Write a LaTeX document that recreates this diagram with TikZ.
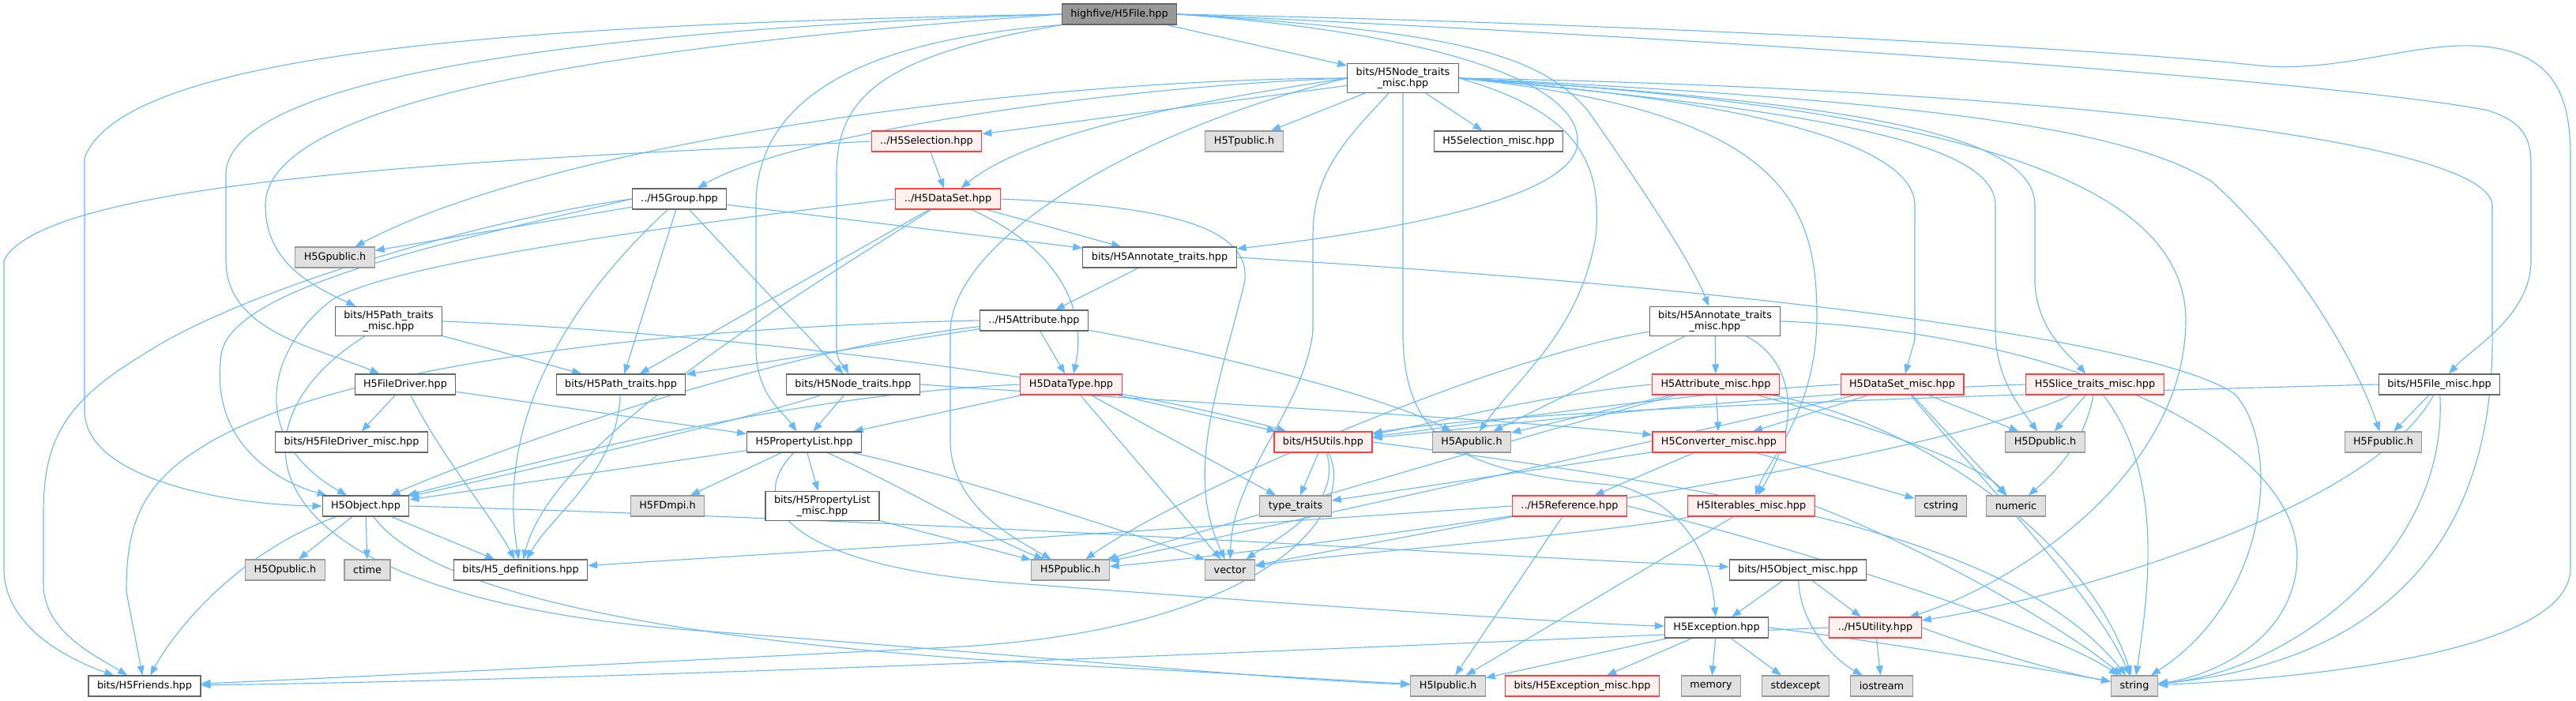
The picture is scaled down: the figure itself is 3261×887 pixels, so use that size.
\documentclass[tikz,border=0pt]{standalone}
\usepackage{fontspec}
\newfontfamily\nodefont{DejaVu Sans}
\usetikzlibrary{arrows.meta,backgrounds}

\definecolor{edgeblue}{HTML}{63B8FF}
\definecolor{redline}{HTML}{FF4040}
\definecolor{redfill}{HTML}{FFF0F0}
\definecolor{extfill}{HTML}{E0E0E0}
\definecolor{extline}{HTML}{999999}
\definecolor{rootfill}{HTML}{999999}
\definecolor{boxline}{HTML}{666666}

\begin{document}
\begin{tikzpicture}[
  x=1pt, y=-1pt,
  base/.style={rectangle, draw, line width=1.1pt, align=center,
               font=\nodefont\fontsize{12.8}{14.5}\selectfont,
               inner xsep=11pt, inner ysep=5pt, minimum height=26pt},
  filebox/.style={base, draw=boxline, fill=white},
  redbox/.style={base, draw=redline, fill=redfill},
  extbox/.style={base, draw=extline, fill=extfill},
  rootbox/.style={base, draw=boxline, fill=rootfill},
  dep/.style={draw=edgeblue, line width=1.1pt, -{Triangle[length=12pt,width=9pt]}}
]
  \useasboundingbox (0,0) rectangle (3261,887);

  % Wurzel
  \node[rootbox] (file) at (1417,18) {highfive/H5File.hpp};
  \node[filebox] (ntm) at (1776,99) {bits/H5Node\_traits\\\_misc.hpp};

  % Ebene 3-6
  \node[redbox] (sel) at (1173,179) {../H5Selection.hpp};
  \node[extbox] (tpub) at (1575,179) {H5Tpublic.h};
  \node[filebox] (selm) at (1897,179) {H5Selection\_misc.hpp};
  \node[filebox] (grp) at (860,252) {../H5Group.hpp};
  \node[redbox] (ds) at (1200,252) {../H5DataSet.hpp};
  \node[extbox] (gpub) at (424,326) {H5Gpublic.h};
  \node[filebox] (annot) at (1468,326) {bits/H5Annotate\_traits.hpp};
  \node[filebox] (attr) at (1309,406) {../H5Attribute.hpp};
  \node[filebox] (ptm) at (492,407) {bits/H5Path\_traits\\\_misc.hpp};
  \node[filebox] (annotm) at (2171,407) {bits/H5Annotate\_traits\\\_misc.hpp};

  % Ebene 7
  \node[filebox] (fd) at (513,487) {H5FileDriver.hpp};
  \node[filebox] (pt) at (786,487) {bits/H5Path\_traits.hpp};
  \node[filebox] (nt) at (1080,487) {bits/H5Node\_traits.hpp};
  \node[redbox] (dt) at (1356,487) {H5DataType.hpp};
  \node[redbox] (am) at (2172,487) {H5Attribute\_misc.hpp};
  \node[redbox] (dsm) at (2408,487) {H5DataSet\_misc.hpp};
  \node[redbox] (slm) at (2652,487) {H5Slice\_traits\_misc.hpp};
  \node[filebox] (fm) at (3088,487) {bits/H5File\_misc.hpp};

  % Ebene 8
  \node[filebox] (fdm) at (445,560) {bits/H5FileDriver\_misc.hpp};
  \node[filebox] (pl) at (1018,560) {H5PropertyList.hpp};
  \node[redbox] (utils) at (1675,560) {bits/H5Utils.hpp};
  \node[extbox] (apub) at (1863,560) {H5Apublic.h};
  \node[redbox] (conv) at (2176,560) {H5Converter\_misc.hpp};
  \node[extbox] (dpub) at (2589,560) {H5Dpublic.h};
  \node[extbox] (fpub) at (3017,560) {H5Fpublic.h};

  % Ebene 9
  \node[filebox] (obj) at (463,641) {H5Object.hpp};
  \node[extbox] (fdmpi) at (845,641) {H5FDmpi.h};
  \node[filebox] (plm) at (1041,641) {bits/H5PropertyList\\\_misc.hpp};
  \node[extbox] (tt) at (1640,641) {type\_traits};
  \node[redbox] (ref) at (1987,641) {../H5Reference.hpp};
  \node[redbox] (iter) at (2217,641) {H5Iterables\_misc.hpp};
  \node[extbox] (cstr) at (2457,641) {cstring};
  \node[extbox] (num) at (2552,641) {numeric};

  % Ebene 10-11
  \node[extbox] (opub) at (361,722) {H5Opublic.h};
  \node[extbox] (ctime) at (465,722) {ctime};
  \node[filebox] (defs) at (659,722) {bits/H5\_definitions.hpp};
  \node[extbox] (ppub) at (1355,722) {H5Ppublic.h};
  \node[extbox] (vec) at (1557,722) {vector};
  \node[filebox] (om) at (2276,722) {bits/H5Object\_misc.hpp};
  \node[filebox] (exc) at (2173,795) {H5Exception.hpp};
  \node[redbox] (util) at (2374,795) {../H5Utility.hpp};

  % unterste Ebene
  \node[filebox] (friends) at (183,869) {bits/H5Friends.hpp};
  \node[extbox] (ipub) at (1833,869) {H5Ipublic.h};
  \node[redbox] (excm) at (2003,869) {bits/H5Exception\_misc.hpp};
  \node[extbox] (mem) at (2166,869) {memory};
  \node[extbox] (stdex) at (2273,869) {stdexcept};
  \node[extbox] (iost) at (2382,869) {iostream};
  \node[extbox] (str) at (2702,869) {string};

  \begin{scope}[on background layer]
  % H5File.hpp
  \draw[dep] (file) -- (ntm);
  \draw[dep] (file.west) .. controls (700,30) and (160,60) .. (107,200) -- (107,520) .. controls (107,610) and (300,640) .. (obj.west);
  \draw[dep] (file.west) .. controls (800,35) and (290,90) .. (286,220) -- (286,330) .. controls (286,420) and (400,440) .. (fd);
  \draw[dep] (file.west) .. controls (900,50) and (336,110) .. (336,260) .. controls (336,330) and (390,360) .. (ptm);
  \draw[dep] (file.south west) .. controls (1100,50) and (957,120) .. (957,260) -- (957,440) .. controls (957,500) and (990,520) .. (pl);
  \draw[dep] (file.south west) .. controls (1120,70) and (1059,120) .. (1059,220) -- (1059,440) .. controls (1059,460) and (1070,465) .. (nt);
  \draw[dep] (file.east) .. controls (1800,40) and (2000,100) .. (1997,180) .. controls (1995,260) and (1700,300) .. (annot);
  \draw[dep] (file.east) .. controls (1850,40) and (1950,70) .. (2010,140) .. controls (2080,240) and (2140,330) .. (annotm);
  \draw[dep] (file.east) .. controls (2100,30) and (2700,65) .. (2850,82) .. controls (2950,95) and (3050,55) .. (3130,58) .. controls (3240,62) and (3254,130) .. (3254,200) -- (3254,720) .. controls (3254,830) and (2900,860) .. (str);
  \draw[dep] (file.east) .. controls (2400,60) and (3000,110) .. (3150,140) .. controls (3195,155) and (3204,175) .. (3204,210) -- (3204,330) .. controls (3204,400) and (3130,440) .. (fm);

  % H5Node_traits_misc.hpp
  \draw[dep] (ntm) -- (sel);
  \draw[dep] (ntm) -- (tpub);
  \draw[dep] (ntm) -- (selm);
  \draw[dep] (ntm.west) .. controls (1500,130) and (1300,170) .. (ds);
  \draw[dep] (ntm.west) .. controls (1400,110) and (1000,170) .. (grp);
  \draw[dep] (ntm.west) .. controls (1300,100) and (700,180) .. (gpub);
  \draw[dep] (ntm.east) .. controls (2500,110) and (3150,170) .. (3155,260) -- (3155,420) .. controls (3160,780) and (2900,850) .. (str);
  \draw[dep] (ntm.east) .. controls (2350,130) and (2576,170) .. (2576,260) -- (2576,360) .. controls (2580,420) and (2620,450) .. (slm);
  \draw[dep] (ntm.east) .. controls (2550,140) and (2760,250) .. (2767,400) .. controls (2770,600) and (2550,740) .. (util);
  \draw[dep] (ntm.east) .. controls (2500,130) and (2700,170) .. (2800,230) .. controls (2900,320) and (2980,450) .. (fpub);
  \draw[dep] (ntm.east) .. controls (2300,140) and (2526,180) .. (2526,260) -- (2526,420) .. controls (2526,480) and (2560,520) .. (dpub);
  \draw[dep] (ntm.east) .. controls (2250,130) and (2424,190) .. (2424,260) -- (2424,430) -- (dsm);
  \draw[dep] (ntm.south) -- (1776,430) .. controls (1780,560) and (1850,600) .. (2050,615) .. controls (2130,640) and (2165,700) .. (exc);
  \draw[dep] (ntm) .. controls (1700,180) and (1662,220) .. (1662,300) -- (1662,420) .. controls (1650,520) and (1560,600) .. (vec);
  \draw[dep] (ntm.east) .. controls (1990,140) and (2030,200) .. (2020,300) .. controls (2000,420) and (1920,480) .. (apub);
  \draw[dep] (ntm.west) .. controls (1450,160) and (1205,300) .. (1203,420) -- (1203,560) .. controls (1205,640) and (1280,680) .. (ppub);
  \draw[dep] (ntm.east) .. controls (2250,140) and (2300,250) .. (2300,400) .. controls (2300,520) and (2240,580) .. (iter);

  % H5Selection.hpp, H5Group.hpp
  \draw[dep] (sel) -- (ds);
  \draw[dep] (sel.west) .. controls (700,200) and (60,220) .. (5,330) -- (5,720) .. controls (5,800) and (100,840) .. (friends);
  \draw[dep] (grp) -- (gpub);
  \draw[dep] (grp.west) .. controls (600,280) and (300,370) .. (180,450) .. controls (80,510) and (55,560) .. (55,650) -- (55,740) .. controls (55,800) and (120,830) .. (friends);
  \draw[dep] (grp.west) .. controls (600,300) and (290,360) .. (280,450) .. controls (265,560) and (350,610) .. (obj);
  \draw[dep] (grp) -- (pt);
  \draw[dep] (grp) -- (nt);
  \draw[dep] (grp) -- (annot);
  \draw[dep] (grp) .. controls (700,400) and (630,550) .. (defs);

  % H5DataSet.hpp
  \draw[dep] (ds.west) .. controls (900,280) and (500,330) .. (420,380) .. controls (330,450) and (320,560) .. (obj);
  \draw[dep] (ds) .. controls (1000,380) and (700,560) .. (defs);
  \draw[dep] (ds) -- (pt);
  \draw[dep] (ds) .. controls (1350,320) and (1375,400) .. (dt);
  \draw[dep] (ds) -- (annot);
  \draw[dep] (ds.east) .. controls (1450,260) and (1590,280) .. (1575,360) .. controls (1540,500) and (1500,600) .. (vec);

  % H5Annotate_traits.hpp, H5Attribute.hpp
  \draw[dep] (annot) -- (attr);
  \draw[dep] (annot.east) .. controls (2300,370) and (2750,440) .. (2830,500) .. controls (2890,570) and (2870,760) .. (str);
  \draw[dep] (attr.west) .. controls (800,415) and (400,470) .. (250,570) .. controls (170,620) and (160,680) .. (160,750) -- (friends);
  \draw[dep] (attr) -- (pt);
  \draw[dep] (attr) .. controls (1000,440) and (650,560) .. (obj);
  \draw[dep] (attr) -- (dt);
  \draw[dep] (attr) .. controls (1500,440) and (1750,500) .. (apub);

  % H5Annotate_traits_misc.hpp
  \draw[dep] (annotm) .. controls (1900,450) and (1500,620) .. (ppub);
  \draw[dep] (annotm) -- (apub);
  \draw[dep] (annotm) -- (am);
  \draw[dep] (annotm) .. controls (2260,450) and (2290,520) .. (iter);
  \draw[dep] (annotm.east) .. controls (2600,420) and (2900,550) .. (2908,700) .. controls (2910,820) and (2780,860) .. (str);

  % H5Attribute_misc.hpp, H5DataSet_misc.hpp, H5Slice_traits_misc.hpp
  \draw[dep] (am.west) .. controls (1950,500) and (1800,540) .. (utils);
  \draw[dep] (am) -- (apub);
  \draw[dep] (am) -- (conv);
  \draw[dep] (am) .. controls (2300,520) and (2500,580) .. (num);
  \draw[dep] (am) .. controls (2450,540) and (2650,700) .. (str);
  \draw[dep] (am) .. controls (1900,560) and (1500,680) .. (ppub);
  \draw[dep] (dsm.west) .. controls (2100,500) and (1850,540) .. (utils);
  \draw[dep] (dsm) -- (conv);
  \draw[dep] (dsm) -- (dpub);
  \draw[dep] (dsm) -- (num);
  \draw[dep] (dsm) .. controls (2500,600) and (2650,750) .. (str);
  \draw[dep] (dsm) .. controls (2000,580) and (1500,690) .. (ppub);
  \draw[dep] (slm.west) .. controls (2200,500) and (1850,545) .. (utils);
  \draw[dep] (slm) -- (dpub);
  \draw[dep] (slm) .. controls (2640,560) and (2600,600) .. (num);
  \draw[dep] (slm) .. controls (2740,600) and (2720,750) .. (str);
  \draw[dep] (slm) .. controls (2400,600) and (1600,700) .. (ppub);

  % H5File_misc.hpp
  \draw[dep] (fm) -- (fpub);
  \draw[dep] (fm) .. controls (3000,650) and (2600,760) .. (util);
  \draw[dep] (fm) .. controls (3100,700) and (2900,850) .. (str);
  \draw[dep] (fm.west) .. controls (2500,500) and (1900,520) .. (utils);

  % H5FileDriver.hpp, H5Node_traits.hpp, H5Path_traits*.hpp
  \draw[dep] (fd) -- (pl);
  \draw[dep] (fd) .. controls (560,580) and (620,650) .. (defs);
  \draw[dep] (fd) -- (fdm);
  \draw[dep] (nt) -- (pl);
  \draw[dep] (nt) .. controls (950,530) and (650,600) .. (obj);
  \draw[dep] (nt.east) .. controls (1500,510) and (1900,530) .. (conv);
  \draw[dep] (pt) .. controls (780,600) and (700,650) .. (defs);
  \draw[dep] (ptm) -- (pt);
  \draw[dep] (ptm.east) .. controls (900,420) and (1400,480) .. (utils);
  \draw[dep] (ptm) .. controls (280,540) and (300,760) .. (900,800) .. controls (1300,830) and (1600,860) .. (ipub);

  % H5DataType.hpp, H5PropertyList.hpp
  \draw[dep] (dt.west) .. controls (1000,500) and (700,580) .. (obj);
  \draw[dep] (dt) -- (pl);
  \draw[dep] (dt) -- (tt);
  \draw[dep] (dt) -- (vec);
  \draw[dep] (dt) -- (utils);
  \draw[dep] (pl) -- (obj);
  \draw[dep] (pl) -- (fdmpi);
  \draw[dep] (pl) .. controls (940,640) and (1000,720) .. (1300,740) .. controls (1700,770) and (2000,790) .. (exc);
  \draw[dep] (pl) -- (plm);
  \draw[dep] (pl) .. controls (1150,620) and (1250,680) .. (ppub);
  \draw[dep] (pl) .. controls (1200,600) and (1450,680) .. (vec);
  \draw[dep] (plm) -- (ppub);

  % H5Utils.hpp, H5Converter_misc.hpp
  \draw[dep] (utils) -- (tt);
  \draw[dep] (utils) .. controls (1700,640) and (1620,680) .. (vec);
  \draw[dep] (utils) .. controls (1720,650) and (1600,800) .. (1200,820) .. controls (800,840) and (400,860) .. (friends);
  \draw[dep] (utils.east) .. controls (2200,620) and (2550,680) .. (str);
  \draw[dep] (conv) -- (tt);
  \draw[dep] (conv) -- (ref);
  \draw[dep] (conv) -- (cstr);

  % H5Reference.hpp, H5Iterables_misc.hpp
  \draw[dep] (ref.west) .. controls (1500,670) and (1000,700) .. (defs);
  \draw[dep] (ref) -- (vec);
  \draw[dep] (ref) -- (ipub);
  \draw[dep] (ref.east) .. controls (2300,700) and (2600,800) .. (str);
  \draw[dep] (iter) .. controls (2000,680) and (1700,700) .. (vec);
  \draw[dep] (iter) -- (ipub);
  \draw[dep] (iter.east) .. controls (2450,700) and (2620,800) .. (str);

  % H5Object.hpp
  \draw[dep] (obj) .. controls (300,700) and (220,800) .. (friends);
  \draw[dep] (obj) -- (opub);
  \draw[dep] (obj) -- (ctime);
  \draw[dep] (obj) -- (defs);
  \draw[dep] (obj) .. controls (550,760) and (900,820) .. (1400,845) .. controls (1600,855) and (1700,862) .. (ipub);
  \draw[dep] (obj.east) .. controls (1200,660) and (1800,700) .. (om);

  % H5Object_misc.hpp, H5Exception.hpp, H5Utility.hpp
  \draw[dep] (om) -- (exc);
  \draw[dep] (om) -- (util);
  \draw[dep] (om) .. controls (2280,800) and (2330,840) .. (iost);
  \draw[dep] (exc) -- (ipub);
  \draw[dep] (exc) -- (excm);
  \draw[dep] (exc) -- (mem);
  \draw[dep] (exc) -- (stdex);
  \draw[dep] (exc.east) .. controls (2400,815) and (2600,850) .. (str);
  \draw[dep] (util.west) .. controls (1500,830) and (800,860) .. (friends);
  \draw[dep] (util) -- (iost);
  \draw[dep] (util.east) .. controls (2500,820) and (2600,850) .. (str);
  \end{scope}
\end{tikzpicture}
\end{document}
